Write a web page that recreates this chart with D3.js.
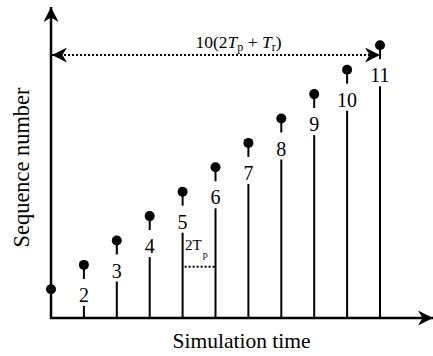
<!DOCTYPE html>
<html>
<head>
<meta charset="utf-8">
<script src="https://cdn.jsdelivr.net/npm/d3@7"></script>
<style>
  html, body { margin: 0; padding: 0; background: #fff; }
  svg { display: block; }
  text { font-family: "Liberation Serif", "Times New Roman", serif; fill: #000; }
</style>
</head>
<body>
<svg id="chart" width="433" height="356"></svg>
<script>
// Packet sequence numbers and their send times (in units of 2Tp + Tr)
const seqNumbers = [1, 2, 3, 4, 5, 6, 7, 8, 9, 10, 11];
const sendTimes  = [0, 1, 2, 3, 4, 5, 6, 7, 8, 9, 10];
const seqLabels  = ["1", "2", "3", "4", "5", "6", "7", "8", "9", "10", "11"];
const xTitle = "Simulation time";
const yTitle = "Sequence number";

const svg = d3.select("#chart");

const x = d3.scaleLinear().domain([0, 10]).range([51, 380]);
const y = d3.scaleLinear().domain([1, 11]).range([289.3, 45.3]);
const axisY = 318;

// Arrowhead definition (barbed, solid)
const defs = svg.append("defs");
defs.append("marker")
  .attr("id", "barb")
  .attr("viewBox", "0 0 15 15")
  .attr("refX", 15).attr("refY", 7.5)
  .attr("markerWidth", 15).attr("markerHeight", 15)
  .attr("markerUnits", "userSpaceOnUse")
  .attr("orient", "auto-start-reverse")
  .append("path")
  .attr("d", "M0,0 L15,7.5 L0,15 L4.5,7.5 Z")
  .attr("fill", "#000");

// Axes
svg.append("line")
  .attr("x1", x(0)).attr("y1", axisY + 1)
  .attr("x2", x(0)).attr("y2", 7)
  .attr("stroke", "#000").attr("stroke-width", 2.5)
  .attr("marker-end", "url(#barb)");
svg.append("line")
  .attr("x1", x(0) - 1).attr("y1", axisY)
  .attr("x2", 433).attr("y2", axisY)
  .attr("stroke", "#000").attr("stroke-width", 2.5)
  .attr("marker-end", "url(#barb)");

// Stems: dot, short segment, label, long segment down to the time axis
const g = svg.append("g");
seqNumbers.forEach((n, i) => {
  const cx = x(sendTimes[i]);
  const cy = y(n);
  if (i > 0) {
    g.append("line")
      .attr("x1", cx).attr("x2", cx)
      .attr("y1", cy).attr("y2", cy + 14)
      .attr("stroke", "#000").attr("stroke-width", 2);
    g.append("text")
      .attr("x", cx).attr("y", cy + 37)
      .attr("text-anchor", "middle")
      .attr("font-size", 20)
      .text(seqLabels[i]);
    g.append("line")
      .attr("x1", cx).attr("x2", cx)
      .attr("y1", cy + 41).attr("y2", axisY)
      .attr("stroke", "#000").attr("stroke-width", 2);
  }
  g.append("circle")
    .attr("cx", cx).attr("cy", cy)
    .attr("r", 5)
    .attr("fill", "#000");
});

// Dotted span across ten intervals
const spanY = 55;
svg.append("line")
  .attr("x1", x(0) + 1).attr("x2", x(10))
  .attr("y1", spanY).attr("y2", spanY)
  .attr("stroke", "#000").attr("stroke-width", 2)
  .attr("stroke-dasharray", "2,2")
  .attr("marker-start", "url(#barb)")
  .attr("marker-end", "url(#barb)");

const spanLabel = svg.append("text")
  .attr("x", 238.5).attr("y", 47.5)
  .attr("text-anchor", "middle")
  .attr("font-size", 17.5);
spanLabel.append("tspan").text("10(2");
spanLabel.append("tspan").attr("font-style", "italic").text("T");
spanLabel.append("tspan").attr("font-size", 12).attr("dy", 3).text("p");
spanLabel.append("tspan").attr("dy", -3).text(" + ");
spanLabel.append("tspan").attr("font-style", "italic").text("T");
spanLabel.append("tspan").attr("font-size", 12).attr("dy", 3).text("r");
spanLabel.append("tspan").attr("dy", -3).text(")");

// One interval marker between packets 5 and 6
const ivY = 266.7;
svg.append("line")
  .attr("x1", x(4) + 2).attr("x2", x(5) - 1)
  .attr("y1", ivY).attr("y2", ivY)
  .attr("stroke", "#000").attr("stroke-width", 2)
  .attr("stroke-dasharray", "2,2");
const ivLabel = svg.append("text")
  .attr("x", x(4) + 2.5).attr("y", 250)
  .attr("font-size", 15);
ivLabel.append("tspan").text("2T");
ivLabel.append("tspan").attr("font-size", 10).attr("dy", 8).attr("dx", 1).text("p");

// Axis titles
svg.append("text")
  .attr("x", 241.5).attr("y", 348)
  .attr("text-anchor", "middle")
  .attr("font-size", 21.5)
  .text(xTitle);
svg.append("text")
  .attr("transform", "translate(29,167.5) rotate(-90)")
  .attr("text-anchor", "middle")
  .attr("font-size", 22.4)
  .text(yTitle);
</script>
</body>
</html>
